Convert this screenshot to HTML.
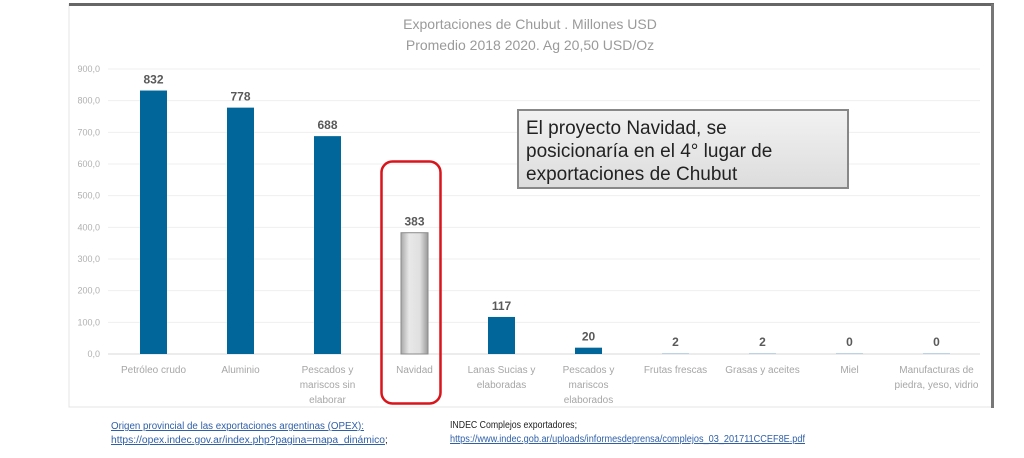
<!DOCTYPE html>
<html><head><meta charset="utf-8"><style>
body{margin:0;background:#fff;width:1024px;height:458px;overflow:hidden}
svg{display:block;font-family:"Liberation Sans",sans-serif}
</style></head><body>
<svg id="chart" width="1024" height="458" viewBox="0 0 1024 458">
<defs>
<linearGradient id="gbar" x1="0" x2="1" y1="0" y2="0"><stop offset="0" stop-color="#a8a8a8"/><stop offset="0.3" stop-color="#e8e8e8"/><stop offset="0.7" stop-color="#e0e0e0"/><stop offset="1" stop-color="#9a9a9a"/></linearGradient>
<linearGradient id="gbox" x1="0" x2="0" y1="0" y2="1"><stop offset="0" stop-color="#f2f2f2"/><stop offset="1" stop-color="#dcdcdc"/></linearGradient>
</defs>
<rect x="69" y="4" width="923" height="403" fill="#fff" stroke="#e4e4e4" stroke-width="1"/>
<line x1="69" y1="4.5" x2="994" y2="4.5" stroke="#666" stroke-width="3"/>
<line x1="992.5" y1="4" x2="992.5" y2="408" stroke="#777" stroke-width="3"/>
<text x="530" y="29" text-anchor="middle" font-size="14" fill="#9a9a9a">Exportaciones de Chubut . Millones USD</text>
<text x="530" y="50" text-anchor="middle" font-size="14" fill="#9a9a9a">Promedio 2018 2020. Ag 20,50 USD/Oz</text>
<g id="grid"></g><g id="bars"></g><g id="labels"></g>
<rect x="381.5" y="161.5" width="59" height="242" rx="11" fill="none" stroke="#d9141b" stroke-width="2.5"/>
<rect x="518" y="110" width="330" height="78" fill="url(#gbox)" stroke="#888" stroke-width="2"/>
<text font-size="19" fill="#222"><tspan x="526" y="134">El proyecto Navidad, se</tspan><tspan x="526" y="157">posicionaría en el 4° lugar de</tspan><tspan x="526" y="180">exportaciones de Chubut</tspan></text>
<g font-size="10" fill="#2e5fa8" text-decoration="underline">
<text x="111" y="429" textLength="253" lengthAdjust="spacingAndGlyphs">Origen provincial de las exportaciones argentinas (OPEX):</text>
<text x="111" y="443" textLength="274" lengthAdjust="spacingAndGlyphs">https://opex.indec.gov.ar/index.php?pagina=mapa_dinámico</text>
<text x="450" y="442" textLength="355" lengthAdjust="spacingAndGlyphs">https://www.indec.gob.ar/uploads/informesdeprensa/complejos_03_201711CCEF8E.pdf</text>
</g>
<text x="385" y="443" font-size="10" fill="#222">;</text>
<text x="450" y="428" font-size="10" fill="#222" textLength="127" lengthAdjust="spacingAndGlyphs">INDEC Complejos exportadores;</text>
</svg>
<script>
const categories=[["Petróleo crudo"],["Aluminio"],["Pescados y","mariscos sin","elaborar"],["Navidad"],["Lanas  Sucias y","elaboradas"],["Pescados y","mariscos","elaborados"],["Frutas frescas"],["Grasas y aceites"],["Miel"],["Manufacturas de","piedra, yeso, vidrio"]];
const values=[832,778,688,383,117,20,2,2,0,0];
const valueLabels=["832","778","688","383","117","20","2","2","0","0"];
const yTicks=[0,100,200,300,400,500,600,700,800,900];
const yTickLabels=["0,0","100,0","200,0","300,0","400,0","500,0","600,0","700,0","800,0","900,0"];
const highlightIndex=3;
const NS="http://www.w3.org/2000/svg";
const y0=354,yTop=69,xL=110,step=87,bw=27;
const y=v=>y0-(v/900)*(y0-yTop);
const xc=i=>xL+step/2+i*step;
function mk(t,a,p){const e=document.createElementNS(NS,t);for(const k in a)e.setAttribute(k,a[k]);p.appendChild(e);return e;}
const grid=document.getElementById('grid'),bars=document.getElementById('bars'),labels=document.getElementById('labels');
yTicks.forEach((t,i)=>{
  const l=mk('line',{x1:108,x2:980,y1:y(t),y2:y(t),stroke:i===0?'#d9d9d9':'#efefef','stroke-width':1},grid);
  
  
  const tx=mk('text',{x:100,y:y(t)+3,'text-anchor':'end','font-size':9,fill:'#b0b0b0'},grid);
  tx.textContent=yTickLabels[i];
  
  
});
values.forEach((v,i)=>{
  const h=Math.max(y0-y(v),1);
  const hi=i===highlightIndex;
  const r=mk('rect',{x:xc(i)-bw/2,y:y0-h,width:bw,height:h,fill:hi?'url(#gbar)':(v<5?'#bcd3e3':'#016699')},bars);
  if(hi){r.setAttribute('stroke','#8a8a8a');r.setAttribute('stroke-width','1');}
  
  
  const vl=mk('text',{x:xc(i),y:y0-h-7,'text-anchor':'middle','font-size':12,'font-weight':'bold',fill:'#595959'},labels);
  vl.textContent=valueLabels[i];
  
  
  categories[i].forEach((line,j)=>{
    const c=mk('text',{x:xc(i),y:373+j*15,'text-anchor':'middle','font-size':10,fill:'#a6a6a6'},labels);
    c.textContent=line;
    
    
  });
});
</script>
</body></html>
